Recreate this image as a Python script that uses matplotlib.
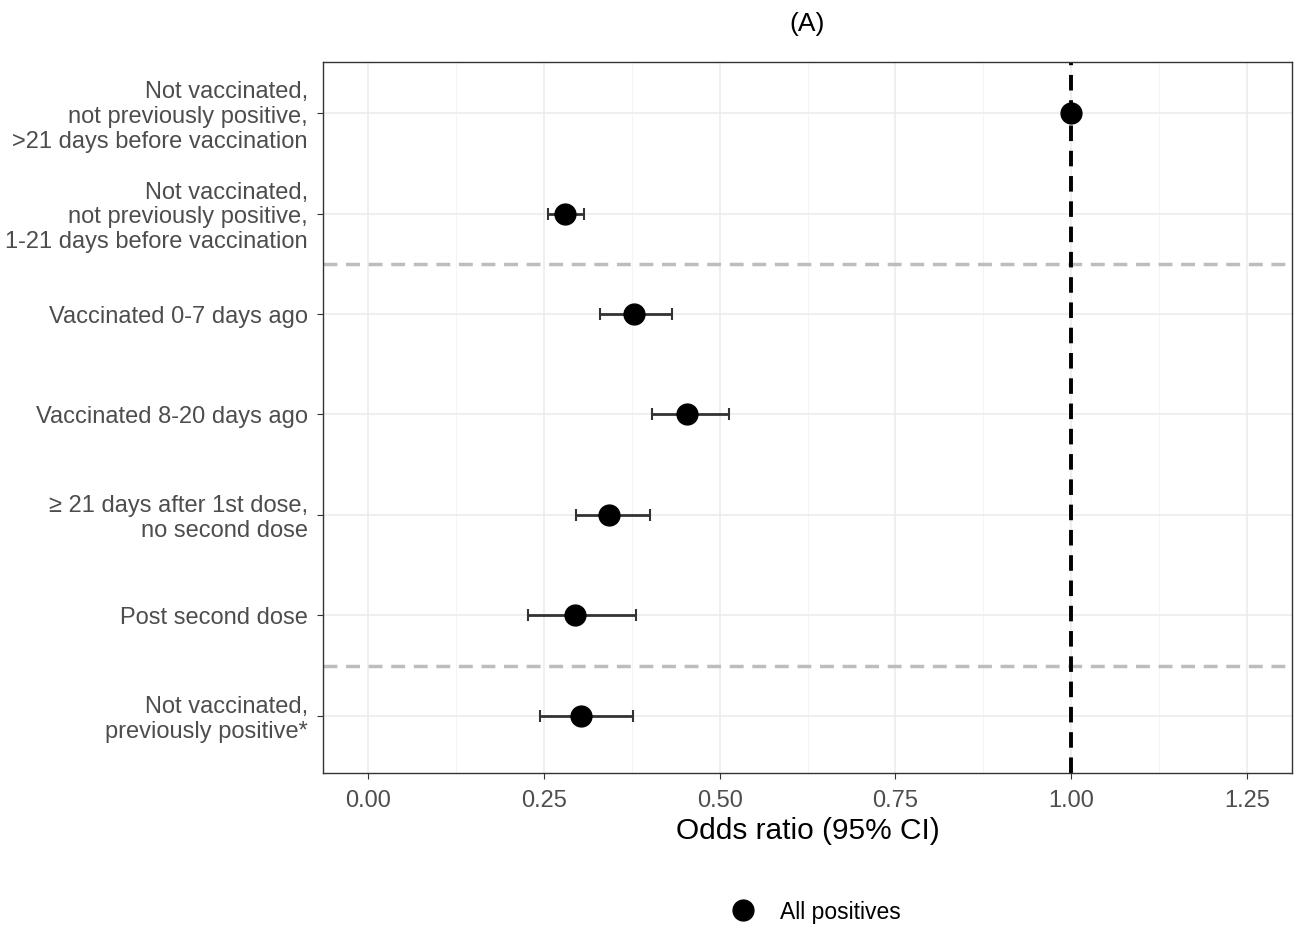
import matplotlib
matplotlib.use("Agg")
import matplotlib.pyplot as plt
from matplotlib.lines import Line2D

# categories top to bottom
labels = [
    "Not vaccinated,\nnot previously positive,\n>21 days before vaccination",
    "Not vaccinated,\nnot previously positive,\n1-21 days before vaccination",
    "Vaccinated 0-7 days ago",
    "Vaccinated 8-20 days ago",
    "\u2265 21 days after 1st dose,\nno second dose",
    "Post second dose",
    "Not vaccinated,\npreviously positive*",
]
odds = [1.00, 0.280, 0.378, 0.454, 0.343, 0.294, 0.303]
lower = [1.00, 0.256, 0.330, 0.404, 0.296, 0.228, 0.245]
upper = [1.00, 0.307, 0.432, 0.513, 0.401, 0.381, 0.377]
xticks = [0.00, 0.25, 0.50, 0.75, 1.00, 1.25]
group_breaks = [1.5, 5.5]   # in rows counted from top

plt.rcParams['font.family'] = ['Liberation Sans', 'DejaVu Sans']

fig = plt.figure(figsize=(12.97, 9.25), dpi=100)
ax = fig.add_axes([323/1297, 1-773/925, (1292-323)/1297, (773-62)/925])

n = len(labels)
ypos = [n-1-i for i in range(n)]

# grid (major + minor), theme_bw style
for t in xticks:
    ax.axvline(t, color='#EBEBEB', lw=1.1, zorder=0)
for t in [x + 0.125 for x in xticks]:
    ax.axvline(t, color='#F2F2F2', lw=0.6, zorder=0)
for y in ypos:
    ax.axhline(y, color='#EBEBEB', lw=1.1, zorder=0)

for b in group_breaks:
    ax.axhline(n-1-b, color='#BDBDBD', lw=2.5, ls=(0, (4, 2.5)), zorder=1)
ax.axvline(1.0, color='black', lw=2.8, ls=(0, (4, 2.5)), zorder=1)

for y, o, lo, hi in zip(ypos, odds, lower, upper):
    if hi > lo:
        ax.errorbar(o, y, xerr=[[o-lo], [hi-o]], fmt='none', ecolor='#333333',
                    elinewidth=2, capsize=4.5, capthick=1.5, zorder=2)
    ax.plot(o, y, 'o', color='black', ms=15, zorder=3)

ax.set_xlim(-0.064, 1.314)
ax.set_ylim(-0.57, n-1+0.51)
ax.set_xticks(xticks)
ax.set_xticklabels([f"{t:.2f}" for t in xticks])
ax.set_yticks(ypos)
ax.set_yticklabels(labels, linespacing=1.15)
ax.tick_params(axis='both', colors='#333333', labelcolor='#4D4D4D', labelsize=17, length=4)
ax.tick_params(axis='y', pad=7)
ax.tick_params(axis='x', pad=8)
for lbl in ax.get_yticklabels():
    lbl.set_multialignment('right')
for s in ax.spines.values():
    s.set_color('#333333')
    s.set_linewidth(1.0)

ax.set_xlabel("Odds ratio (95% CI)", fontsize=21.5, color='black', labelpad=4)
ax.set_title("(A)", fontsize=19, pad=22)

handle = Line2D([], [], marker='o', color='black', ls='none', ms=15)
fig.legend([handle], ["All positives"], loc='center', bbox_to_anchor=(0.627, 1-912/925),
           frameon=False, fontsize=16.5, handletextpad=0.9, handlelength=1.5)

fig.savefig("out.png", dpi=100)
